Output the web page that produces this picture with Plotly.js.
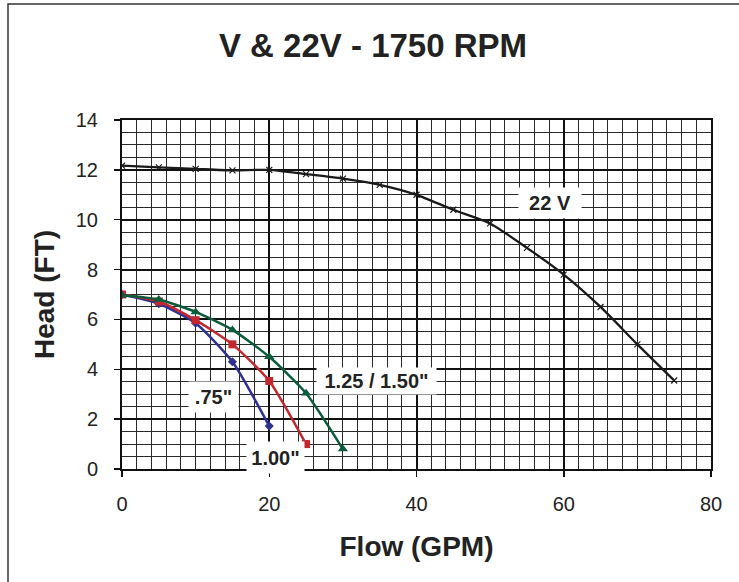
<!DOCTYPE html>
<html>
<head>
<meta charset="utf-8">
<script src="https://cdn.plot.ly/plotly-3.0.1.min.js"></script>
<style>
  html, body { margin: 0; padding: 0; background: #fff; }
  #chart { width: 739px; height: 582px; }
</style>
</head>
<body>
<div id="chart"></div>
<script>
// ---- data ----
const flow22V = [0, 5, 10, 15, 20, 25, 30, 35, 40, 45, 50, 55, 60, 65, 70, 75];
const head22V = [12.17, 12.1, 12.04, 11.98, 12.0, 11.83, 11.65, 11.4, 11.0, 10.4, 9.85, 8.87, 7.8, 6.5, 5.0, 3.55];

const flow075 = [0, 5, 10, 15, 20];
const head075 = [7.0, 6.63, 5.85, 4.3, 1.72];

const flow100 = [0, 5, 10, 15, 20, 25];
const head100 = [7.0, 6.72, 5.97, 5.0, 3.53, 1.0];

const flow125 = [0, 5, 10, 15, 20, 25, 30];
const head125 = [6.97, 6.8, 6.3, 5.58, 4.5, 3.04, 0.8];

const xTicks = [0, 20, 40, 60, 80];
const yTicks = [0, 2, 4, 6, 8, 10, 12, 14];

const labelText = ['22 V', '1.25 / 1.50"', '.75"', '1.00"'];
const labelX = [58.1, 34.6, 12.4, 20.8];
const labelY = [10.67, 3.53, 2.89, 0.48];

// ---- styles ----
const FONT = '"Liberation Sans", Arial, Helvetica, sans-serif';
const labelW = [60, 117, 47, 55];
const labelH = [28, 24, 28, 29];

const traces = [
  {
    x: flow075, y: head075, type: 'scatter', mode: 'lines+markers', name: '.75"',
    line: { color: '#2e3192', width: 2.5, shape: 'spline', smoothing: 0.6 },
    marker: { symbol: 'diamond', size: 7, color: '#2e3192' }
  },
  {
    x: flow100, y: head100, type: 'scatter', mode: 'lines+markers', name: '1.00"',
    line: { color: '#c1272d', width: 2.5, shape: 'spline', smoothing: 0.6 },
    marker: { symbol: 'square', size: 8, color: '#c1272d' }
  },
  {
    x: flow125, y: head125, type: 'scatter', mode: 'lines+markers', name: '1.25 / 1.50"',
    line: { color: '#0a5c3a', width: 2.5, shape: 'spline', smoothing: 0.6 },
    marker: { symbol: 'triangle-up', size: 9, color: '#0a5c3a' }
  },
  {
    x: flow22V, y: head22V, type: 'scatter', mode: 'lines+markers', name: '22 V',
    line: { color: '#1a1a1a', width: 2.3, shape: 'spline', smoothing: 0.6 },
    marker: { symbol: 'x-thin-open', size: 6, color: '#1a1a1a', line: { width: 1.2, color: '#1a1a1a' } }
  }
];

const annotations = labelText.map((t, i) => ({
  x: labelX[i], y: labelY[i], xref: 'x', yref: 'y',
  text: '<b>' + t + '</b>', showarrow: false,
  font: { family: FONT, size: 20, color: '#222' },
  bgcolor: '#ffffff', width: labelW[i], height: labelH[i],
  xanchor: 'center', yanchor: 'middle'
}));

const layout = {
  width: 739, height: 582,
  margin: { l: 122, r: 28, t: 120, b: 113 },
  paper_bgcolor: '#ffffff', plot_bgcolor: '#ffffff',
  showlegend: false,
  font: { family: FONT, color: '#222' },
  title: {
    text: '<b>V & 22V - 1750 RPM</b>',
    font: { family: FONT, size: 33, color: '#222' },
    xref: 'container', x: 373 / 739, xanchor: 'center',
    yref: 'container', y: 1 - 45 / 582, yanchor: 'middle'
  },
  xaxis: {
    range: [0, 80], tickvals: xTicks, ticktext: xTicks.map(String),
    showgrid: true, gridcolor: '#111', gridwidth: 2,
    minor: { dtick: 2, showgrid: true, gridcolor: '#2a2a2a', gridwidth: 1, ticks: '' },
    showline: true, linecolor: '#111', linewidth: 2, mirror: true,
    ticks: 'outside', ticklen: 6, tickcolor: '#111', tickwidth: 1.5,
    ticklabelstandoff: 10,
    tickfont: { family: FONT, size: 20, color: '#222' },
    zeroline: false,
    title: { text: '<b>Flow (GPM)</b>', font: { family: FONT, size: 28, color: '#222' }, standoff: 22 }
  },
  yaxis: {
    range: [0, 14], tickvals: yTicks, ticktext: yTicks.map(String),
    showgrid: true, gridcolor: '#111', gridwidth: 2,
    minor: { dtick: 0.5, showgrid: true, gridcolor: '#2a2a2a', gridwidth: 1, ticks: '' },
    showline: true, linecolor: '#111', linewidth: 2, mirror: true,
    ticks: 'outside', ticklen: 6, tickcolor: '#111', tickwidth: 1.5,
    ticklabelstandoff: 12,
    tickfont: { family: FONT, size: 20, color: '#222' },
    zeroline: false,
    title: { text: '<b>Head (FT)</b>', font: { family: FONT, size: 28, color: '#222' }, standoff: 13 }
  },
  annotations: annotations,
  shapes: [{
    type: 'rect', xref: 'paper', yref: 'paper',
    x0: (8 - 122) / 589, x1: 1.2, y0: -0.5, y1: (469 - 4) / 349,
    line: { color: '#333', width: 1.5 }, fillcolor: 'rgba(0,0,0,0)', layer: 'below'
  }]
};

Plotly.newPlot('chart', traces, layout, { staticPlot: true, displayModeBar: false });
</script>
</body>
</html>
